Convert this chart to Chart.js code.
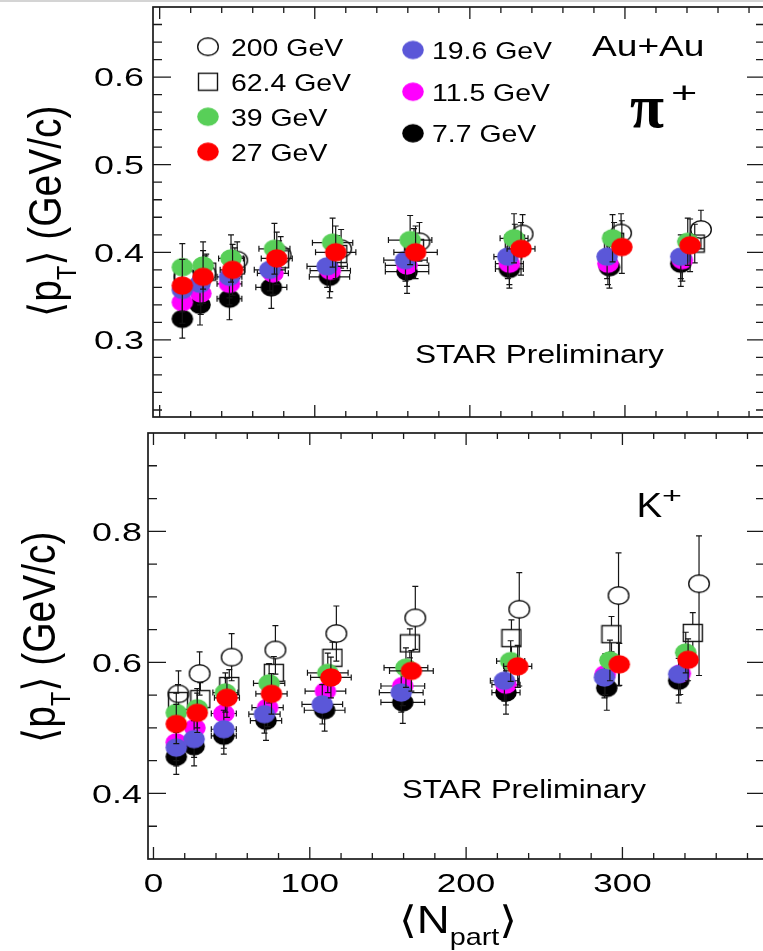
<!DOCTYPE html>
<html>
<head>
<meta charset="utf-8">
<script src="https://cdn.jsdelivr.net/npm/chart.js@4.4.0/dist/chart.umd.min.js"></script>
<style>
  html, body { margin:0; padding:0; background:#fff; overflow:hidden; width:763px; height:951px; }
  #topWrap { position:absolute; left:0; top:0; }
  #botWrap { position:absolute; left:0; top:425px; }
</style>
</head>
<body>
<div id="topWrap"><canvas id="piChart" width="768" height="425"></canvas></div>
<div id="botWrap"><canvas id="kChart" width="768" height="526"></canvas></div>
<script>
// <pT> vs <Npart>, Au+Au, pi+ (top) and K+ (bottom)
const energies = ['200 GeV', '62.4 GeV', '39 GeV', '27 GeV', '19.6 GeV', '11.5 GeV', '7.7 GeV'];

// <Npart> per centrality bin
const npart200 = [16, 29.5, 50, 78, 117, 167.5, 234, 297.5, 349];
const npart62  = [15.7, 30, 48.5, 77, 114.5, 164, 229, 293, 345];
const npart39  = [14.6, 28, 46, 74, 111.5, 161.5, 228.5, 292, 340.5];
const npart27  = [14.6, 28, 47, 75.5, 113.5, 165, 233, 298, 342];
const npart19  = [14.6, 26, 45, 71, 108, 158.5, 224.5, 288.5, 336];
const npart11  = [14.6, 26.5, 45, 73, 110, 159.5, 225.5, 289, 337];
const npart7   = [14.6, 26, 45, 72, 109.5, 159.5, 225.5, 290, 336];
const npartErr = [2, 4, 8, 10, 13, 14, 9, 4, 3];

// pi+ <pT> (GeV/c)
const pi200 = [0.372, 0.376, 0.391, 0.397, 0.404, 0.412, 0.421, 0.422, 0.426];
const pi62  = [0.370, 0.378, 0.385, 0.392, 0.398, 0.405, 0.410, 0.412, 0.410];
const pi39  = [0.383, 0.385, 0.393, 0.404, 0.411, 0.414, 0.416, 0.416, 0.412];
const pi27  = [0.362, 0.372, 0.380, 0.393, 0.400, 0.400, 0.404, 0.406, 0.408];
const pi19  = [0.357, 0.364, 0.372, 0.380, 0.384, 0.391, 0.395, 0.395, 0.395];
const pi11  = [0.343, 0.353, 0.364, 0.376, 0.379, 0.385, 0.387, 0.387, 0.391];
const pi7   = [0.324, 0.340, 0.347, 0.360, 0.372, 0.378, 0.381, 0.383, 0.387];
const piErr200 = [0.020, 0.020, 0.021, 0.021, 0.022, 0.022, 0.022, 0.022, 0.022];
const piErr62  = [0.020, 0.020, 0.020, 0.021, 0.021, 0.022, 0.022, 0.022, 0.022];
const piErr39  = [0.027, 0.027, 0.027, 0.029, 0.028, 0.028, 0.028, 0.027, 0.027];
const piErr27  = [0.030, 0.030, 0.029, 0.030, 0.030, 0.030, 0.030, 0.030, 0.030];
const piErr19  = [0.024, 0.024, 0.024, 0.024, 0.024, 0.024, 0.025, 0.025, 0.025];
const piErr11  = [0.024, 0.024, 0.024, 0.024, 0.024, 0.024, 0.024, 0.024, 0.024];
const piErr7   = [0.022, 0.023, 0.024, 0.024, 0.024, 0.025, 0.022, 0.024, 0.026];

// K+ <pT> (GeV/c)
const k200 = [0.552, 0.583, 0.608, 0.619, 0.644, 0.668, 0.681, 0.702, 0.720];
const k62  = [0.541, 0.544, 0.564, 0.584, 0.607, 0.629, 0.637, 0.643, 0.645];
const k39  = [0.523, 0.530, 0.554, 0.568, 0.584, 0.592, 0.602, 0.603, 0.615];
const k27  = [0.506, 0.523, 0.546, 0.552, 0.577, 0.587, 0.594, 0.597, 0.604];
const k19  = [0.470, 0.483, 0.498, 0.521, 0.536, 0.554, 0.572, 0.577, 0.582];
const k11  = [0.478, 0.500, 0.522, 0.531, 0.556, 0.564, 0.566, 0.582, 0.583];
const k7   = [0.456, 0.472, 0.488, 0.511, 0.527, 0.539, 0.554, 0.561, 0.572];
const kErr200Up = [0.035, 0.033, 0.036, 0.037, 0.042, 0.048, 0.056, 0.065, 0.073];
const kErr200Dn = [0.035, 0.033, 0.036, 0.037, 0.042, 0.048, 0.117, 0.138, 0.140];
const kErr62 = [0.025, 0.025, 0.025, 0.025, 0.024, 0.022, 0.028, 0.027, 0.031];
const kErr39 = [0.030, 0.030, 0.030, 0.030, 0.030, 0.030, 0.031, 0.031, 0.031];
const kErr27 = [0.030, 0.030, 0.030, 0.031, 0.031, 0.031, 0.032, 0.032, 0.032];
const kErr19 = [0.028, 0.028, 0.029, 0.029, 0.030, 0.030, 0.031, 0.031, 0.032];
const kErr11 = [0.028, 0.028, 0.029, 0.029, 0.030, 0.030, 0.031, 0.031, 0.032];
const kErr7  = [0.027, 0.030, 0.028, 0.030, 0.032, 0.032, 0.033, 0.034, 0.034];

// axis labels
const xTickLabels = [0, 100, 200, 300];
const piYTickLabels = [0.3, 0.4, 0.5, 0.6];
const kYTickLabels = [0.4, 0.6, 0.8];

const FONT = '"Liberation Sans", Arial, "DejaVu Sans", sans-serif';
const colors = {
  '39 GeV': '#58cf58', '27 GeV': '#ff0000', '19.6 GeV': '#5b57d8',
  '11.5 GeV': '#ff00ff', '7.7 GeV': '#000000'
};

// marker images (slightly wide ellipses like the original)
function markerCanvas(kind, color) {
  const c = document.createElement('canvas');
  const w = kind === 'square' ? 22 : 24, h = kind === 'square' ? 20 : 21;
  c.width = w; c.height = h;
  const g = c.getContext('2d');
  if (kind === 'filled') {
    g.fillStyle = color;
    g.beginPath(); g.ellipse(w/2, h/2, 10.8, 9.2, 0, 0, Math.PI*2); g.fill();
  } else if (kind === 'open') {
    g.strokeStyle = '#111'; g.lineWidth = 1.4;
    g.beginPath(); g.ellipse(w/2, h/2, 10.3, 8.8, 0, 0, Math.PI*2); g.stroke();
  } else {
    g.strokeStyle = '#111'; g.lineWidth = 1.4;
    g.strokeRect(1.5, 1.5, w-3, h-3);
  }
  return c;
}
const markers = {
  '200 GeV': markerCanvas('open'),
  '62.4 GeV': markerCanvas('square'),
};
Object.keys(colors).forEach(k => markers[k] = markerCanvas('filled', colors[k]));

function pts(xs, ys, up, dn, ex) {
  return xs.map((x, i) => ({x: x, y: ys[i], eu: up[i], ed: (dn || up)[i], ex: ex ? ex[i] : 0}));
}
function ds(label, data) {
  return {label: label, data: data, pointStyle: markers[label], pointRadius: 10, pointHoverRadius: 10};
}

// dataset 0 is drawn last (on top)
const piSets = [
  ds('27 GeV', pts(npart27, pi27, piErr27, null, npartErr)),
  ds('39 GeV', pts(npart39, pi39, piErr39, null, npartErr)),
  ds('19.6 GeV', pts(npart19, pi19, piErr19, null, npartErr)),
  ds('11.5 GeV', pts(npart11, pi11, piErr11, null, npartErr)),
  ds('7.7 GeV', pts(npart7, pi7, piErr7, null, npartErr)),
  ds('62.4 GeV', pts(npart62, pi62, piErr62)),
  ds('200 GeV', pts(npart200, pi200, piErr200)),
];
const kSets = [
  ds('27 GeV', pts(npart27, k27, kErr27, null, npartErr)),
  ds('39 GeV', pts(npart39, k39, kErr39, null, npartErr)),
  ds('19.6 GeV', pts(npart19, k19, kErr19, null, npartErr)),
  ds('11.5 GeV', pts(npart11, k11, kErr11, null, npartErr)),
  ds('7.7 GeV', pts(npart7, k7, kErr7, null, npartErr)),
  ds('62.4 GeV', pts(npart62, k62, kErr62)),
  ds('200 GeV', pts(npart200, k200, kErr200Up, kErr200Dn)),
];

function sText(ctx, txt, x, y, size, sx, align, font) {
  ctx.save();
  ctx.font = (font ? font : size + 'px ' + FONT);
  ctx.fillStyle = '#000';
  ctx.textBaseline = 'alphabetic';
  const w = ctx.measureText(txt).width * sx;
  let x0 = x;
  if (align === 'right') x0 = x - w;
  else if (align === 'center') x0 = x - w / 2;
  ctx.translate(x0, y);
  ctx.scale(sx, 1);
  ctx.fillText(txt, 0, 0);
  ctx.restore();
  return w;
}

// <pT> (GeV/c), rotated, stretched across the glyph height like the original
function yTitle(ctx, xBase, yStart, size, sx) {
  ctx.save();
  ctx.translate(xBase, yStart);
  ctx.rotate(-Math.PI / 2);
  ctx.scale(1, sx);
  ctx.fillStyle = '#000';
  let pos = 0;
  const put = (t, s, dy) => {
    ctx.font = s + 'px ' + FONT;
    ctx.fillText(t, pos, dy);
    pos += ctx.measureText(t).width;
  };
  put('\u27E8', size, 0);
  put('p', size, 0);
  put('T', size * 0.6, size * 0.33);
  put('\u27E9', size, 0);
  put(' (GeV/c)', size, 0);
  ctx.restore();
}

// frame with inward ticks on all four sides
function drawFrame(chart, yMinor, yMajor) {
  const {ctx, chartArea: a, scales: {x, y}} = chart;
  ctx.save();
  ctx.strokeStyle = '#1a1a1a';
  ctx.lineWidth = 1.7;
  ctx.strokeRect(a.left, a.top, a.right - a.left, a.bottom - a.top);
  ctx.lineWidth = 1.3;
  ctx.beginPath();
  for (let k = 0; k * 20 <= x.max; k++) {
    const p = x.getPixelForValue(k * 20);
    const len = (k % 5 === 0) ? 12 : 6;
    ctx.moveTo(p, a.bottom); ctx.lineTo(p, a.bottom - len);
    ctx.moveTo(p, a.top); ctx.lineTo(p, a.top + len);
  }
  for (let k = Math.ceil(y.min / yMinor + 1e-6); k * yMinor < y.max - 1e-6; k++) {
    const v = k * yMinor;
    const p = y.getPixelForValue(v);
    const isMajor = Math.abs(v / yMajor - Math.round(v / yMajor)) < 1e-6;
    const len = isMajor ? 18 : 9;
    ctx.moveTo(a.left, p); ctx.lineTo(a.left + len, p);
    ctx.moveTo(a.right, p); ctx.lineTo(a.right - len, p);
  }
  ctx.stroke();
  ctx.restore();
}

const errorBars = {
  id: 'errorBars',
  beforeDatasetDraw(chart, args) {
    const set = chart.data.datasets[args.index];
    const {ctx} = chart;
    const x = chart.scales.x, y = chart.scales.y;
    const gy = 8.5, gx = 10, cap = 3;
    ctx.save();
    ctx.strokeStyle = '#151515';
    ctx.lineWidth = 1.2;
    ctx.beginPath();
    set.data.forEach(d => {
      const px = x.getPixelForValue(d.x), py = y.getPixelForValue(d.y);
      const up = y.getPixelForValue(d.y + d.eu), dn = y.getPixelForValue(d.y - d.ed);
      if (py - up > gy) { ctx.moveTo(px, py - gy); ctx.lineTo(px, up); }
      if (dn - py > gy) { ctx.moveTo(px, py + gy); ctx.lineTo(px, dn); }
      ctx.moveTo(px - cap, up); ctx.lineTo(px + cap, up);
      ctx.moveTo(px - cap, dn); ctx.lineTo(px + cap, dn);
      if (d.ex) {
        const l = x.getPixelForValue(d.x - d.ex), r = x.getPixelForValue(d.x + d.ex);
        if (px - l > gx) {
          ctx.moveTo(px - gx, py); ctx.lineTo(l, py);
          ctx.moveTo(px + gx, py); ctx.lineTo(r, py);
          ctx.moveTo(l, py - cap); ctx.lineTo(l, py + cap);
          ctx.moveTo(r, py - cap); ctx.lineTo(r, py + cap);
        }
      }
    });
    ctx.stroke();
    ctx.restore();
  }
};

const piDecor = {
  id: 'piDecor',
  beforeDatasetsDraw(chart) {
    const ctx = chart.ctx, y = chart.scales.y;
    ctx.save();
    ctx.fillStyle = '#d4d4d4';
    ctx.fillRect(0, 0, chart.width, 2);
    ctx.restore();
    drawFrame(chart, 0.02, 0.1);
    piYTickLabels.forEach(v => {
      sText(ctx, v.toFixed(1), 144, y.getPixelForValue(v) + 9.3, 26, 1.38, 'right');
    });
    yTitle(ctx, 61, 317, 39, 1.17);
    // legend
    const col1 = energies.slice(0, 4), col2 = energies.slice(4);
    const rows1 = [46.7, 81.7, 116.7, 151.7], rows2 = [50, 91.7, 133.3];
    col1.forEach((e, i) => {
      const m = markers[e];
      ctx.drawImage(m, 208 - m.width / 2, rows1[i] - m.height / 2);
      sText(ctx, e, 231, rows1[i] + 8.8, 24.5, 1.16, 'left');
    });
    col2.forEach((e, i) => {
      const m = markers[e];
      ctx.drawImage(m, 413 - m.width / 2, rows2[i] - m.height / 2);
      sText(ctx, e, 432, rows2[i] + 8.8, 24.5, 1.16, 'left');
    });
    sText(ctx, 'Au+Au', 592, 56, 29, 1.28, 'left');
    sText(ctx, '\u03C0', 630, 127, 0, 1.0, 'left', 'bold 62px "Liberation Serif", "DejaVu Serif", serif');
    sText(ctx, '+', 671, 102.7, 30, 1.5, 'left');
    sText(ctx, 'STAR Preliminary', 415, 363.3, 25.5, 1.24, 'left');
  }
};

const kDecor = {
  id: 'kDecor',
  beforeDatasetsDraw(chart) {
    const ctx = chart.ctx, x = chart.scales.x, y = chart.scales.y;
    drawFrame(chart, 0.05, 0.2);
    kYTickLabels.forEach(v => {
      sText(ctx, v.toFixed(1), 142, y.getPixelForValue(v) + 9.3, 26, 1.38, 'right');
    });
    xTickLabels.forEach(v => {
      sText(ctx, String(v), x.getPixelForValue(v), 467, 25.6, 1.37, 'center');
    });
    yTitle(ctx, 55, 318, 39, 1.17);
    // <N_part>
    let px = 399;
    px += sText(ctx, '\u27E8', px, 508, 38, 1.2, 'left');
    px += sText(ctx, 'N', px, 508, 38, 1.2, 'left');
    px += sText(ctx, 'part', px, 520, 24, 1.2, 'left');
    sText(ctx, '\u27E9', px, 508, 38, 1.2, 'left');
    sText(ctx, 'K', 636.6, 91.7, 35, 1.1, 'left');
    sText(ctx, '+', 662, 78, 22, 1.55, 'left');
    sText(ctx, 'STAR Preliminary', 402, 373.3, 25.5, 1.215, 'left');
  }
};

function makeChart(id, sets, yMin, yMax, xMin, xMax, padding, decor) {
  return new Chart(document.getElementById(id), {
    type: 'scatter',
    data: {datasets: sets},
    options: {
      responsive: false,
      animation: false,
      devicePixelRatio: 1,
      events: [],
      layout: {padding: padding, autoPadding: false},
      plugins: {legend: {display: false}, tooltip: {enabled: false}},
      scales: {
        x: {type: 'linear', min: xMin, max: xMax, display: false},
        y: {type: 'linear', min: yMin, max: yMax, display: false}
      }
    },
    plugins: [decor, errorBars]
  });
}

makeChart('piChart', piSets, 0.212, 0.68, -4.3, 390.3, {left: 153, top: 7, right: 3, bottom: 8}, piDecor);
makeChart('kChart', kSets, 0.30, 0.95, -3.5, 391.2, {left: 148, top: 8, right: 3, bottom: 92}, kDecor);
</script>
</body>
</html>
